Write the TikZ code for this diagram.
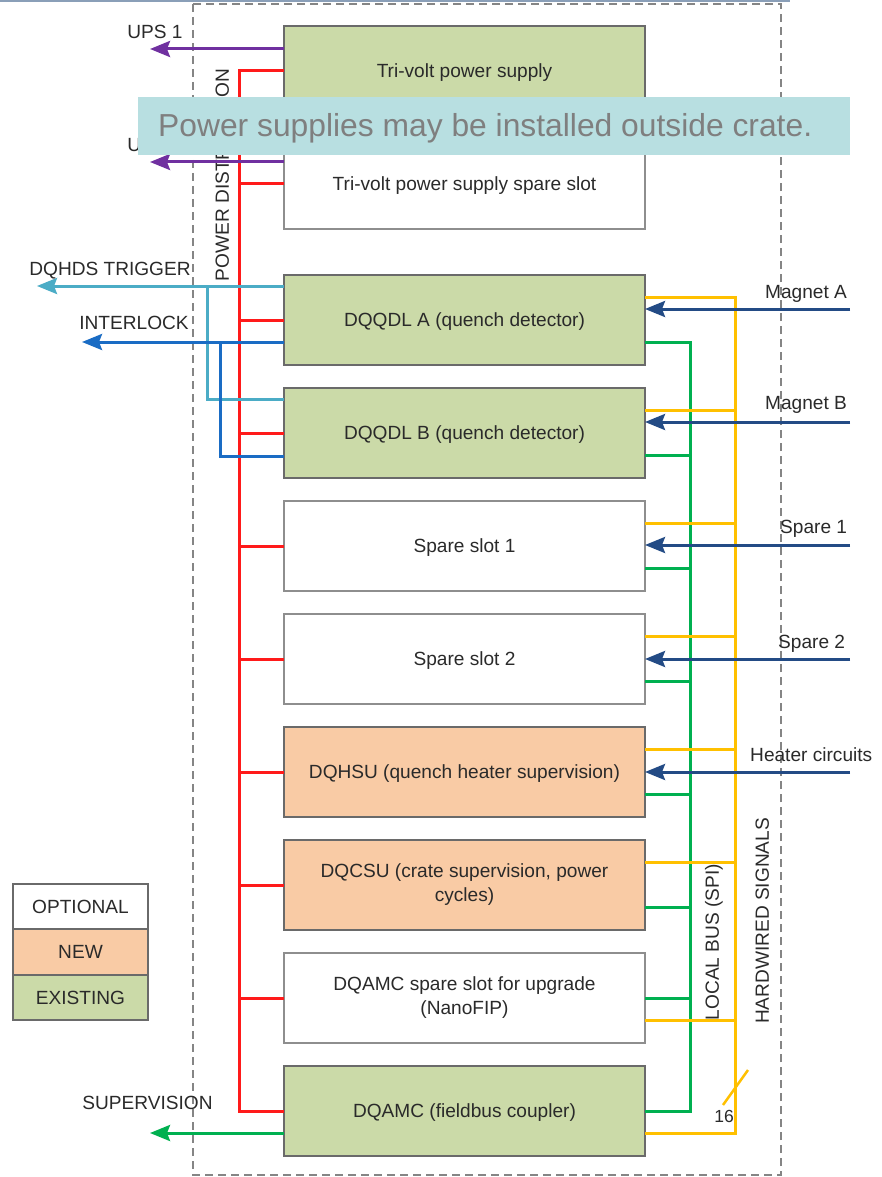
\documentclass[tikz,border=0pt]{standalone}
\usepackage{fontspec}
\setmainfont{Liberation Sans}
\usetikzlibrary{arrows.meta,calc}
\definecolor{gfill}{HTML}{CBDAA8}
\definecolor{ofill}{HTML}{F9CBA5}
\definecolor{bord}{HTML}{6A6A6A}
\definecolor{bordl}{HTML}{8E8E8E}
\definecolor{txtc}{HTML}{2A2A2A}
\definecolor{pwrc}{HTML}{FF1A1A}
\definecolor{upsc}{HTML}{7030A0}
\definecolor{trigc}{HTML}{4BACC6}
\definecolor{ilkc}{HTML}{1A6CC4}
\definecolor{sigc}{HTML}{234B85}
\definecolor{yelc}{HTML}{FFC000}
\definecolor{grnc}{HTML}{00B050}
\definecolor{crc}{HTML}{858585}
\definecolor{banc}{HTML}{B8DFE1}
\definecolor{bantxt}{HTML}{7F7F7F}
\definecolor{topc}{HTML}{8A9FB8}
\newcommand\fsnorm{\fontsize{19.1}{24}\selectfont}
\newcommand\fsbig{\fontsize{31.8}{36}\selectfont}
\begin{document}
\begin{tikzpicture}[x=1pt,y=-1pt,
  box/.style={draw=bord, line width=2.2pt, minimum width=361pt, minimum height=90pt,
    inner sep=0pt, outer sep=0pt, align=center, font=\fsnorm, text=txtc},
  one/.style={text height=17.8pt, text depth=4pt},
  opt/.style={fill=white, draw=bordl},
  leg/.style={draw=bord, line width=2pt, minimum width=135pt, minimum height=45.5pt,
    inner sep=0pt, outer sep=0pt, font=\fsnorm, text=txtc, one},
  lbl/.style={font=\fsnorm, text=txtc, inner sep=0pt, one},
  tipa/.style={-{Stealth[length=20pt,width=16pt,inset=3pt]}},
  pwr/.style={draw=pwrc, line width=3pt},
  ups/.style={draw=upsc, line width=3pt, tipa},
  trigl/.style={draw=trigc, line width=3pt},
  ilkl/.style={draw=ilkc, line width=3pt},
  sig/.style={draw=sigc, line width=3pt, tipa},
  yel/.style={draw=yelc, line width=3pt},
  grn/.style={draw=grnc, line width=3pt},
  crate/.style={draw=crc, line width=1.8pt, dash pattern=on 8pt off 5pt}
]
\useasboundingbox (0,0) rectangle (881,1177);
\fill[white] (0,0) rectangle (881,1177);
\draw[draw=topc, line width=1.5pt] (0,0.8) -- (790,0.8);
\draw[crate] (193,4) rectangle (781,1175);

% boxes
\node[box,one,fill=gfill] (tv1) at (464.5,71) {Tri-volt power supply};
\node[box,one,opt] (tv2) at (464.5,184) {Tri-volt power supply spare slot};
\node[box,one,fill=gfill] (qa) at (464.5,320) {DQQDL A (quench detector)};
\node[box,one,fill=gfill] (qb) at (464.5,433) {DQQDL B (quench detector)};
\node[box,one,opt] (s1) at (464.5,546) {Spare slot 1};
\node[box,one,opt] (s2) at (464.5,659) {Spare slot 2};
\node[box,one,fill=ofill] (hsu) at (464.5,772) {DQHSU (quench heater supervision)};
\node[box,fill=ofill] (csu) at (464.5,885) {DQCSU (crate supervision, power\\cycles)};
\node[box,opt] (amcs) at (464.5,998) {DQAMC spare slot for upgrade\\(NanoFIP)};
\node[box,one,fill=gfill] (amc) at (464.5,1111) {DQAMC (fieldbus coupler)};

% power distribution
\coordinate (pbt) at (239,71);
\coordinate (pbb) at (239,1111);
\draw[pwr] (tv1.west) -- (pbt) -- (pbb) -- (amc.west);
\foreach \n in {tv2,qa,qb,s1,s2,hsu,csu,amcs} \draw[pwr] (\n.west) -- (\n.west -| pbt);
\node[lbl,rotate=90] (pdist) at (222,175) {POWER DISTRIBUTION};

% UPS
\coordinate (ups1) at (150,49);
\coordinate (ups2) at (150,162);
\coordinate (tv1u) at ($(tv1.north west)+(0,23)$);
\coordinate (tv2u) at ($(tv2.north west)+(0,23)$);
\draw[ups] (tv1u) -- (ups1);
\draw[ups] (tv2u) -- (ups2);
\node[lbl] (lups1) at (155,32) {UPS 1};
\node[lbl] (lups2) at (155,145) {UPS 2};

% trigger
\coordinate (trigend) at (37,286);
\coordinate (trigj) at (207,286);
\coordinate (trigb) at (207,399);
\coordinate (qat) at ($(qa.north west)+(0,11)$);
\coordinate (qbt) at ($(qb.north west)+(0,11)$);
\draw[trigl,tipa] (qat) -- (trigend);
\draw[trigl] (qbt) -- (trigb) -- (trigj);
\node[lbl] (ltrig) at (110,269) {DQHDS TRIGGER};

% interlock
\coordinate (ilend) at (82,342);
\coordinate (ilj) at (220,342);
\coordinate (ilb) at (220,456);
\coordinate (qai) at ($(qa.north west)+(0,67)$);
\coordinate (qbi) at ($(qb.north west)+(0,68)$);
\draw[ilkl,tipa] (qai) -- (ilend);
\draw[ilkl] (qbi) -- (ilb) -- (ilj);
\node[lbl] (lilk) at (134,323) {INTERLOCK};

% local bus (green)
\coordinate (gbt) at (690,342);
\coordinate (gbb) at (690,1111);
\coordinate (qag) at ($(qa.north east)+(0,67)$);
\draw[grn] (qag) -- (gbt) -- (gbb) -- (amc.east);
\foreach \n in {qb,s1,s2,hsu,csu} {
  \coordinate (\n-g) at ($(\n.north east)+(0,67)$);
  \draw[grn] (\n-g) -- (\n-g -| gbt);
}
\draw[grn] (amcs.east) -- (amcs.east -| gbt);
\node[lbl,rotate=90] (lbus) at (712,942) {LOCAL BUS (SPI)};

% hardwired (yellow)
\coordinate (ybt) at (735,297);
\coordinate (ybb) at (735,1133);
\coordinate (qay) at ($(qa.north east)+(0,22)$);
\coordinate (amcy) at ($(amc.north east)+(0,67)$);
\draw[yel] (qay) -- (ybt) -- (ybb) -- (amcy);
\foreach \n in {qb,s1,s2,hsu,csu} {
  \coordinate (\n-y) at ($(\n.north east)+(0,22.5)$);
  \draw[yel] (\n-y) -- (\n-y -| ybt);
}
\coordinate (amcsy) at ($(amcs.north east)+(0,67)$);
\draw[yel] (amcsy) -- (amcsy -| ybt);
\coordinate (sl1) at (723,1105);
\coordinate (sl2) at (748,1070);
\draw[draw=yelc, line width=2.5pt] (sl1) -- (sl2);
\node[lbl,font=\fontsize{17.5}{20}\selectfont,text height=15pt,text depth=3pt] (l16) at (724,1116) {16};
\node[lbl,rotate=90] (lhw) at (762,921) {HARDWIRED SIGNALS};

% supervision
\coordinate (supend) at (150,1133);
\draw[grn,tipa] (amcy -| amc.west) -- (supend);
\node[lbl] (lsup) at (147.5,1103) {SUPERVISION};

% inputs
\coordinate (mA) at (850,309);
\coordinate (mB) at (850,422);
\coordinate (sp1) at (850,545);
\coordinate (sp2) at (850,659);
\coordinate (hc) at (850,772);
\draw[sig] (mA) -- (mA -| qa.east);
\draw[sig] (mB) -- (mB -| qb.east);
\draw[sig] (sp1) -- (sp1 -| s1.east);
\draw[sig] (sp2) -- (sp2 -| s2.east);
\draw[sig] (hc) -- (hc -| hsu.east);
\node[lbl,anchor=west] (lmA) at (765,292) {Magnet A};
\node[lbl,anchor=west] (lmB) at (765,403) {Magnet B};
\node[lbl,anchor=west] (lsp1) at (780,527) {Spare 1};
\node[lbl,anchor=west] (lsp2) at (778,642) {Spare 2};
\node[lbl,anchor=west] (lhc) at (750,755) {Heater circuits};

% legend
\node[leg,fill=white] (lopt) at (80.5,906.5) {OPTIONAL};
\node[leg,fill=ofill] (lnew) at (80.5,952) {NEW};
\node[leg,fill=gfill] (lex) at (80.5,997.5) {EXISTING};

% banner
\fill[banc] (138,97) rectangle (850,155);
\node[inner sep=0pt, anchor=base west, font=\fsbig, text=bantxt] (bantext) at (158,137) {Power supplies may be installed outside crate.};
\end{tikzpicture}
\end{document}
